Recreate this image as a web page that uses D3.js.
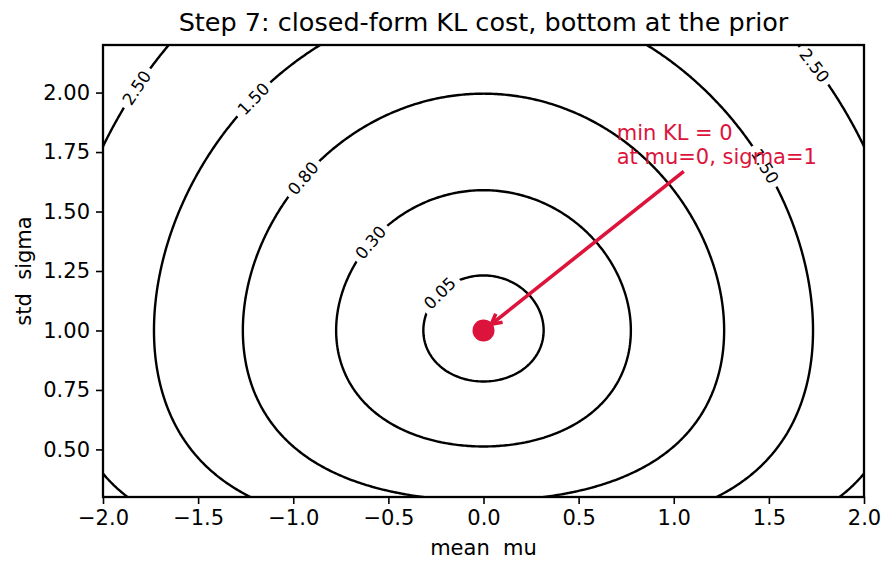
<!DOCTYPE html>
<html><head><meta charset="utf-8">
<script src="https://cdn.jsdelivr.net/npm/d3@7"></script>
<style>body{margin:0;background:#fff} text{font-family:"DejaVu Sans",sans-serif}</style>
</head><body><svg id="c" width="893" height="573"></svg>
<script>
// ---- data ----
const muDomain = [-2, 2];
const sigmaDomain = [0.3, 2.2];
const levels = [0.05, 0.3, 0.8, 1.5, 2.5];
const xTicks = [-2, -1.5, -1, -0.5, 0, 0.5, 1, 1.5, 2];
const yTicks = [0.5, 0.75, 1, 1.25, 1.5, 1.75, 2];
const labelLevels = [2.5, 1.5, 0.8, 0.3, 0.05, 1.5, 2.5];
const labelMu     = [-1.82, -1.20, -0.95, -0.60, -0.23, 1.49, 1.73];
const labelSigma  = [2.02, 1.97, 1.64, 1.37, 1.16, 1.70, 2.11];
const priorMu = [0];
const priorSigma = [1];
const annoLines = ["min KL = 0", "at mu=0, sigma=1"];
const annoMu = [0.7];
const annoSigma = [1.7];
const titleText = "Step 7: closed-form KL cost, bottom at the prior";
const xLabel = "mean  mu";
const yLabel = "std  sigma";

// closed-form KL( N(mu, sigma^2) || N(0,1) )
function kl(mu, s) { return 0.5 * (s * s + mu * mu - 1) - Math.log(s); }

// ---- layout ----
const L = 103, R = 864, T = 45, B = 497;
const RED = "#DC143C";
const svg = d3.select("#c");
const x = d3.scaleLinear().domain(muDomain).range([L, R]);
const y = d3.scaleLinear().domain(sigmaDomain).range([B, T]);

// grid extends beyond axes; clipped
const gMu0 = -2.4, gS0 = 0.1, step = 0.01, nx = 481, ny = 241;
const vals = new Float64Array(nx * ny);
for (let j = 0; j < ny; j++) for (let i = 0; i < nx; i++)
  vals[j * nx + i] = kl(gMu0 + i * step, gS0 + j * step);
const contours = d3.contours().size([nx, ny]).thresholds(levels)(vals);
const toScreen = ([cx, cy]) => [x(gMu0 + (cx - 0.5) * step), y(gS0 + (cy - 0.5) * step)];

const defs = svg.append("defs");
defs.append("clipPath").attr("id", "clip").append("rect")
  .attr("x", L).attr("y", T).attr("width", R - L).attr("height", B - T);
const mask = defs.append("mask").attr("id", "lblmask").attr("maskUnits", "userSpaceOnUse")
  .attr("x", 0).attr("y", 0).attr("width", 893).attr("height", 573);
mask.append("rect").attr("x", 0).attr("y", 0).attr("width", 893).attr("height", 573).attr("fill", "white");

const ringsByLevel = new Map();
contours.forEach(c => {
  const rings = [];
  c.coordinates.forEach(poly => poly.forEach(ring => rings.push(ring.map(toScreen))));
  ringsByLevel.set(c.value, rings);
});

const plotG = svg.append("g").attr("clip-path", "url(#clip)");
const lineG = plotG.append("g").attr("mask", "url(#lblmask)");
contours.forEach(c => {
  const rings = ringsByLevel.get(c.value);
  const d = rings.map(r => "M" + r.map(p => p[0].toFixed(2) + "," + p[1].toFixed(2)).join("L") + "Z").join("");
  lineG.append("path").attr("d", d).attr("fill", "none").attr("stroke", "#000")
    .attr("stroke-width", 2.4).attr("stroke-linejoin", "round");
});

// contour labels
const fmt2 = d3.format(".2f");
const lblG = svg.append("g");
labelLevels.forEach((lv, k) => {
  const tx = x(labelMu[k]), ty = y(labelSigma[k]);
  const rings = ringsByLevel.get(lv);
  let best = null, bd = Infinity;
  rings.forEach(r => r.forEach((p, idx) => {
    if (p[0] < L || p[0] > R || p[1] < T || p[1] > B) return;
    const dd = (p[0] - tx) ** 2 + (p[1] - ty) ** 2;
    if (dd < bd) { bd = dd; best = { r, idx }; }
  }));
  const r = best.r, n = r.length, p = r[best.idx];
  let a = best.idx, b = best.idx;
  for (let s = 0; s < n; s++) { a = (a - 1 + n) % n; const q = r[a]; if (Math.hypot(q[0] - p[0], q[1] - p[1]) > 8) break; }
  for (let s = 0; s < n; s++) { b = (b + 1) % n; const q = r[b]; if (Math.hypot(q[0] - p[0], q[1] - p[1]) > 8) break; }
  let ang = Math.atan2(r[b][1] - r[a][1], r[b][0] - r[a][0]) * 180 / Math.PI;
  if (ang > 90) ang -= 180;
  if (ang <= -90) ang += 180;
  const t = lblG.append("text").attr("x", 0).attr("y", 0)
    .attr("text-anchor", "middle").attr("dominant-baseline", "central")
    .attr("font-size", 16.7).attr("fill", "#000")
    .attr("transform", `translate(${p[0]},${p[1]}) rotate(${ang})`)
    .text(fmt2(lv));
  const w = t.node().getComputedTextLength();
  mask.append("rect").attr("x", -(w / 2 + 5)).attr("y", -7).attr("width", w + 10).attr("height", 14)
    .attr("fill", "black").attr("transform", `translate(${p[0]},${p[1]}) rotate(${ang})`);
});

// prior marker
plotG.selectAll("circle.prior").data(priorMu).enter().append("circle")
  .attr("cx", (d) => x(d)).attr("cy", (d, i) => y(priorSigma[i])).attr("r", 11).attr("fill", RED);

// annotation text
const ax = x(annoMu[0]), ay = y(annoSigma[0]);
const arrowG = svg.append("g");
const annoG = svg.append("g");
annoLines.forEach((s, i) => {
  annoG.append("text").attr("x", ax).attr("y", ay - (annoLines.length - 1 - i) * 23.5)
    .attr("font-size", 21).attr("fill", RED).text(s);
});
const bb = annoG.node().getBBox();
const cx0 = bb.x + bb.width / 2, cy0 = bb.y + bb.height / 2;
const px = x(priorMu[0]), py = y(priorSigma[0]);
const dx = px - cx0, dy = py - cy0, len = Math.hypot(dx, dy);
const ux = dx / len, uy = dy / len;
const tX = ux !== 0 ? (ux > 0 ? (bb.x + bb.width - cx0) / ux : (bb.x - cx0) / ux) : Infinity;
const tY = uy !== 0 ? (uy > 0 ? (bb.y + bb.height - cy0) / uy : (bb.y - cy0) / uy) : Infinity;
const tExit = Math.min(tX, tY) + 4;
const sx = cx0 + ux * tExit, sy = cy0 + uy * tExit;
const ex = px - ux * 10, ey = py - uy * 10;
arrowG.append("line").attr("x1", sx).attr("y1", sy).attr("x2", ex).attr("y2", ey)
  .attr("stroke", RED).attr("stroke-width", 3.6).attr("stroke-linecap", "butt");
const hl = 10, hw = 5.5, nxp = -uy, nyp = ux;
arrowG.append("path")
  .attr("d", `M${ex - ux * hl + nxp * hw},${ey - uy * hl + nyp * hw}L${ex},${ey}L${ex - ux * hl - nxp * hw},${ey - uy * hl - nyp * hw}`)
  .attr("fill", "none").attr("stroke", RED).attr("stroke-width", 3.6).attr("stroke-linejoin", "miter");

// axes
const xAxis = svg.append("g").attr("transform", `translate(0,${B})`)
  .call(d3.axisBottom(x).tickValues(xTicks).tickFormat(d3.format(".1f")).tickSize(7).tickPadding(6));
const yAxis = svg.append("g").attr("transform", `translate(${L},0)`)
  .call(d3.axisLeft(y).tickValues(yTicks).tickFormat(d3.format(".2f")).tickSize(7).tickPadding(6));
[xAxis, yAxis].forEach(g => {
  g.select(".domain").remove();
  g.selectAll(".tick line").attr("stroke", "#000").attr("stroke-width", 1.6);
  g.selectAll(".tick text").attr("font-size", 21).attr("fill", "#000").attr("font-family", "DejaVu Sans");
});
svg.append("rect").attr("x", L).attr("y", T).attr("width", R - L).attr("height", B - T)
  .attr("fill", "none").attr("stroke", "#000").attr("stroke-width", 2.3);

// titles
svg.append("text").attr("x", (L + R) / 2).attr("y", 31).attr("text-anchor", "middle")
  .attr("font-size", 25.5).attr("fill", "#000").text(titleText);
svg.append("text").attr("x", (L + R) / 2).attr("y", 555).attr("text-anchor", "middle")
  .attr("font-size", 21).attr("fill", "#000").style("white-space", "pre").text(xLabel);
svg.append("text").attr("transform", `translate(31,${(T + B) / 2}) rotate(-90)`).attr("text-anchor", "middle")
  .attr("font-size", 21).attr("fill", "#000").style("white-space", "pre").text(yLabel);
</script></body></html>
